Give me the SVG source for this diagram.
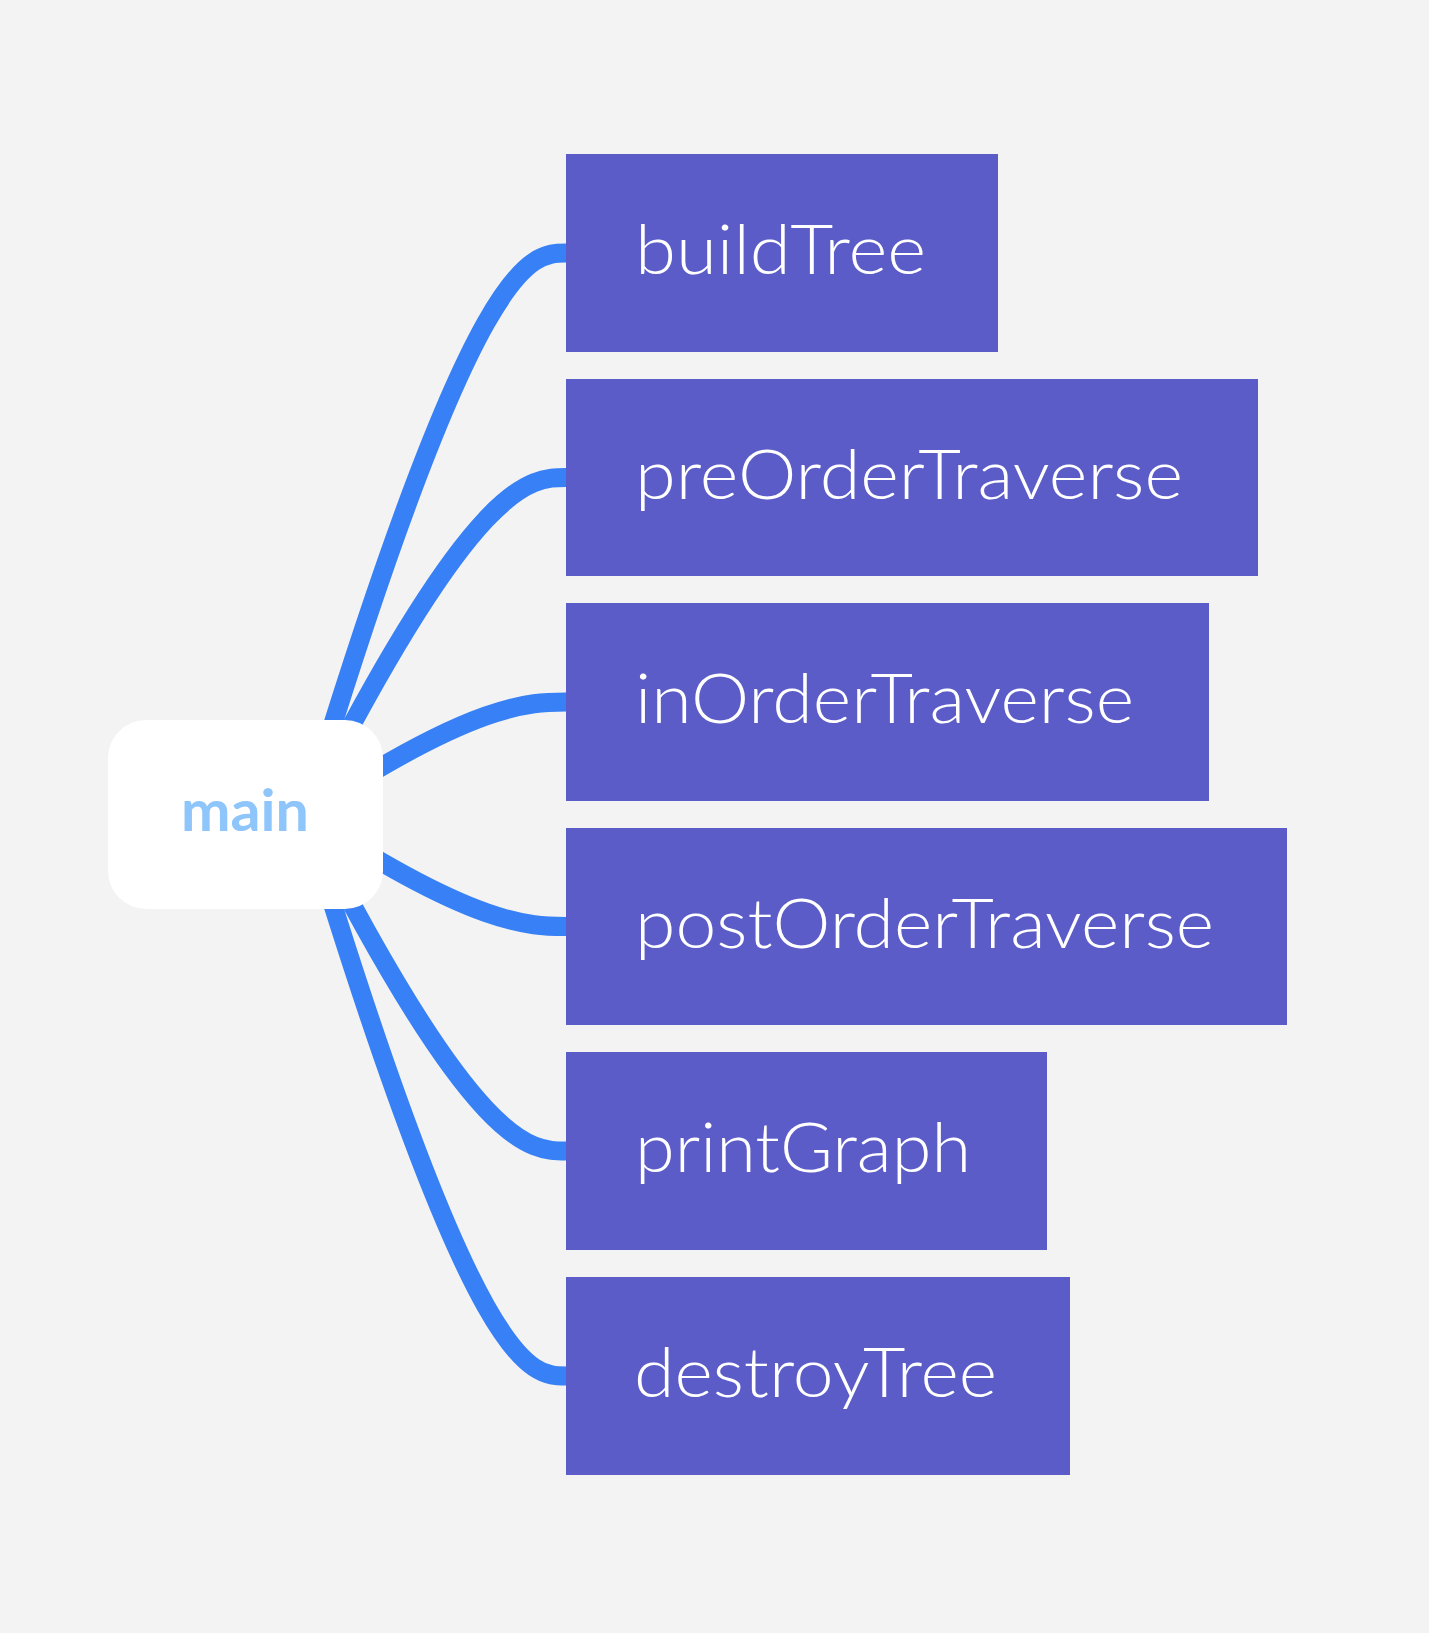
<svg xmlns="http://www.w3.org/2000/svg" width="1429" height="1633" viewBox="0 0 1429 1633">
  <style>
    .bg { fill: #f3f3f3; }
    .conn { fill: none; stroke: #3880f5; stroke-width: 19; stroke-linecap: butt; }
    .box { fill: #5b5cc8; }
    .label { font-family: Lato, "Noto Sans", "Liberation Sans", sans-serif; font-size: 69px; font-weight: 300; fill: #ffffff; }
    .root { fill: #ffffff; }
    .rootlabel { font-family: Lato, "Noto Sans", "Liberation Sans", sans-serif; font-size: 58px; font-weight: 700; fill: #8ec5fa; }
  </style>
  <rect class="bg" x="0" y="0" width="1429" height="1633"/>
  <g id="connectors">
    <path class="conn" d="M305,814.5 C475,253 530,253 566,253 L572,253"/>
    <path class="conn" d="M305,814.5 C475,477.5 530,477.5 566,477.5 L572,477.5"/>
    <path class="conn" d="M305,814.5 C475,702 530,702 566,702 L572,702"/>
    <path class="conn" d="M305,814.5 C475,926.5 530,926.5 566,926.5 L572,926.5"/>
    <path class="conn" d="M305,814.5 C475,1151 530,1151 566,1151 L572,1151"/>
    <path class="conn" d="M305,814.5 C475,1376 530,1376 566,1376 L572,1376"/>
  </g>
  <g id="main">
    <rect class="root" x="108" y="720" width="275" height="189" rx="38" ry="38"/>
    <text class="rootlabel" x="181" y="831" textLength="128" lengthAdjust="spacingAndGlyphs">main</text>
  </g>
  <g id="buildTree">
    <rect class="box" x="566" y="154" width="432" height="198"/>
    <text class="label" x="635" y="274" textLength="291" lengthAdjust="spacingAndGlyphs">buildTree</text>
  </g>
  <g id="preOrderTraverse">
    <rect class="box" x="566" y="379" width="692" height="197"/>
    <text class="label" x="635" y="499" textLength="548" lengthAdjust="spacingAndGlyphs">preOrderTraverse</text>
  </g>
  <g id="inOrderTraverse">
    <rect class="box" x="566" y="603" width="643" height="198"/>
    <text class="label" x="635" y="723" textLength="499" lengthAdjust="spacingAndGlyphs">inOrderTraverse</text>
  </g>
  <g id="postOrderTraverse">
    <rect class="box" x="566" y="828" width="721" height="197"/>
    <text class="label" x="635" y="948" textLength="579" lengthAdjust="spacingAndGlyphs">postOrderTraverse</text>
  </g>
  <g id="printGraph">
    <rect class="box" x="566" y="1052" width="481" height="198"/>
    <text class="label" x="635" y="1172" textLength="336" lengthAdjust="spacingAndGlyphs">printGraph</text>
  </g>
  <g id="destroyTree">
    <rect class="box" x="566" y="1277" width="504" height="198"/>
    <text class="label" x="634" y="1397" textLength="363" lengthAdjust="spacingAndGlyphs">destroyTree</text>
  </g>
</svg>
